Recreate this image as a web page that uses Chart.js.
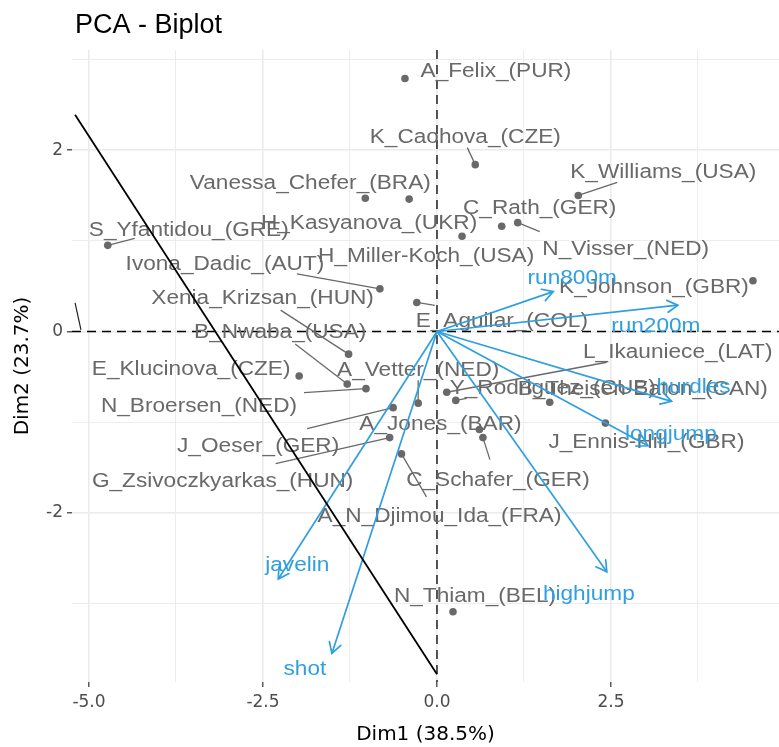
<!DOCTYPE html>
<html>
<head>
<meta charset="utf-8">
<title>PCA - Biplot</title>
<script src="https://cdn.jsdelivr.net/npm/chart.js@4.4.1/dist/chart.umd.min.js"></script>
<style>
  html, body { margin: 0; padding: 0; background: #ffffff; }
  #wrap { position: relative; width: 779px; height: 747px; }
</style>
</head>
<body>
<div id="wrap"><canvas id="biplot"></canvas></div>
<script>
// ---- Individuals (athletes) : coordinates on Dim1 / Dim2 ----
const athletes = [
  'A_Felix_(PUR)', 'K_Caohova_(CZE)', 'K_Williams_(USA)', 'Vanessa_Chefer_(BRA)',
  'H_Kasyanova_(UKR)', 'C_Rath_(GER)', 'N_Visser_(NED)', 'H_Miller-Koch_(USA)',
  'S_Yfantidou_(GRE)', 'Ivona_Dadic_(AUT)', 'E_Aguilar_(COL)', 'K_Johnson_(GBR)',
  'Xenia_Krizsan_(HUN)', 'B_Nwaba_(USA)', 'N_Broersen_(NED)', 'E_Klucinova_(CZE)',
  'A_Vetter_(NED)', 'L_Ikauniece_(LAT)', 'Y_Rodriguez_(CUB)', 'B_Theisen-Eaton_(CAN)',
  'J_Ennis-Hill_(GBR)', 'J_Oeser_(GER)', 'G_Zsivoczkyarkas_(HUN)', 'A_Jones_(BAR)',
  'C_Schafer_(GER)', 'A_N_Djimou_Ida_(FRA)', 'N_Thiam_(BEL)'
];
const dim1 = [
  -0.46, 0.55, 2.03, -1.03,
  0.36, 0.93, 1.16, -0.40,
  -4.73, -0.82, -0.29, 4.54,
  -1.27, -1.29, -1.02, -1.98,
  -0.27, 0.14, 0.27, 1.62,
  2.42, -0.63, -0.68, 0.61,
  0.66, -0.51, 0.23
];
const dim2 = [
  2.79, 1.84, 1.50, 1.47,
  1.05, 1.16, 1.20, 1.46,
  0.95, 0.47, 0.32, 0.56,
  -0.25, -0.58, -0.63, -0.49,
  -0.79, -0.67, -0.76, -0.78,
  -1.01, -0.84, -1.17, -1.08,
  -1.17, -1.35, -3.09
];

// ---- Variables (events) : loadings drawn as arrows from the origin ----
const variables = ['run800m', 'run200m', 'hurdles', 'longjump', 'highjump', 'javelin', 'shot'];
const varDim1 = [1.67, 3.46, 3.37, 3.03, 2.44, -2.28, -1.51];
const varDim2 = [0.44, 0.29, -0.77, -1.26, -2.65, -2.73, -3.55];

// ---- Extra black line and its small stub ----
const lineDim1 = [-5.20, 0.00];
const lineDim2 = [2.39, -3.78];
const stubDim1 = [-5.20, -5.115];
const stubDim2 = [0.315, 0.017];

// ---- Axis ticks ----
const xTickLabels = ['-5.0', '-2.5', '0.0', '2.5'];
const yTickLabels = ['-2', '0', '2'];
const xRange = [-5.244, 4.914];
const yRange = [-3.865, 3.104];

// ---- Label layout (pixel offsets of each label centre from its point) ----
const athleteLabelNudge = [
  [91, -7], [-10, -27], [85, -23], [-55, -15],
  [-93, -13], [38, -18], [108, 27], [17, 58],
  [81, -15], [-155, -24], [85, 19], [-99, 7],
  [-86, -56], [-67, -51], [-167, 18], [-108, -6],
  [0, -33], [231, -40], [97, -12], [93, -13],
  [41, 20], [-135, 39], [-167, 44], [-39, -5],
  [15, 43], [38, 63], [22, -15]
];
// leader segment end (pixel offset from the point), null = no leader
const athleteLeader = [
  null, [-8, -17], [39, -13], null,
  null, null, [22, 9], null,
  [27, -7], [-83, -15], [18, 3], null,
  [-68, -44], [-52, -40], [-62, 4], null,
  [0, -23], [160, -30], [11, -2], null,
  null, [-86, 21], [-114, 26], null,
  [7, 22], [25, 43], null
];
const variableLabelNudge = [[19, -13], [-22, 21], [22, -14], [23, -11], [-18, 23], [19, -13], [-27, 16]];

const IND_COLOR = '#696969';
const VAR_COLOR = '#2E9FDF';
const LABEL_FONT = "19.5px 'Liberation Sans', Arial, sans-serif";
const LABEL_STRETCH = 1.16;

function drawStretchedText(ctx, text, cx, cy, color) {
  ctx.save();
  ctx.translate(cx, cy);
  ctx.scale(LABEL_STRETCH, 1);
  ctx.font = LABEL_FONT;
  ctx.fillStyle = color;
  ctx.textAlign = 'center';
  ctx.textBaseline = 'middle';
  ctx.fillText(text, 0, 0);
  ctx.restore();
}

const datasets = [];
// black line (drawn last, on top)
datasets.push({
  data: lineDim1.map((v, i) => ({x: v, y: lineDim2[i]})),
  showLine: true, borderColor: '#000000', borderWidth: 1.8, pointRadius: 0, fill: false
});
datasets.push({
  data: stubDim1.map((v, i) => ({x: v, y: stubDim2[i]})),
  showLine: true, borderColor: '#222222', borderWidth: 1.2, pointRadius: 0, fill: false
});
// variable arrows
variables.forEach((name, i) => {
  datasets.push({
    label: name,
    data: [{x: 0, y: 0}, {x: varDim1[i], y: varDim2[i]}],
    showLine: true, borderColor: VAR_COLOR, borderWidth: 1.7, pointRadius: 0, fill: false
  });
});
// individuals (drawn first)
const IND_INDEX = datasets.length;
datasets.push({
  label: 'individuals',
  data: dim1.map((v, i) => ({x: v, y: dim2[i]})),
  showLine: false, pointRadius: 3.8, pointBackgroundColor: IND_COLOR, pointBorderWidth: 0
});

const biplotPlugin = {
  id: 'biplotExtras',
  beforeDatasetsDraw(chart) {
    const {ctx, chartArea: a, scales: {x, y}} = chart;
    const x0 = x.getPixelForValue(0), y0 = y.getPixelForValue(0);
    ctx.save();
    ctx.strokeStyle = '#000000';
    ctx.lineWidth = 1.3;
    ctx.setLineDash([9, 6]);
    ctx.beginPath();
    ctx.moveTo(a.left, y0); ctx.lineTo(a.right, y0);
    ctx.moveTo(x0, a.top); ctx.lineTo(x0, a.bottom);
    ctx.stroke();
    ctx.restore();
  },
  afterDatasetDraw(chart, args) {
    if (args.index !== IND_INDEX) return;
    const {ctx, scales: {x, y}} = chart;
    ctx.save();
    ctx.strokeStyle = IND_COLOR;
    ctx.lineWidth = 1.3;
    athletes.forEach((name, i) => {
      const px = x.getPixelForValue(dim1[i]), py = y.getPixelForValue(dim2[i]);
      const lead = athleteLeader[i];
      if (lead) {
        ctx.beginPath();
        ctx.moveTo(px, py);
        ctx.lineTo(px + lead[0], py + lead[1]);
        ctx.stroke();
      }
    });
    athletes.forEach((name, i) => {
      const px = x.getPixelForValue(dim1[i]), py = y.getPixelForValue(dim2[i]);
      const n = athleteLabelNudge[i];
      drawStretchedText(ctx, name, px + n[0], py + n[1], IND_COLOR);
    });
    ctx.restore();
  },
  afterDatasetsDraw(chart) {
    const {ctx, scales: {x, y}} = chart;
    const ox = x.getPixelForValue(0), oy = y.getPixelForValue(0);
    ctx.save();
    ctx.strokeStyle = VAR_COLOR;
    ctx.lineWidth = 1.7;
    ctx.lineCap = 'round';
    const head = 12, ang = Math.PI / 6;
    variables.forEach((name, i) => {
      const ex = x.getPixelForValue(varDim1[i]), ey = y.getPixelForValue(varDim2[i]);
      const t = Math.atan2(ey - oy, ex - ox);
      ctx.beginPath();
      ctx.moveTo(ex - head * Math.cos(t - ang), ey - head * Math.sin(t - ang));
      ctx.lineTo(ex, ey);
      ctx.lineTo(ex - head * Math.cos(t + ang), ey - head * Math.sin(t + ang));
      ctx.stroke();
    });
    variables.forEach((name, i) => {
      const ex = x.getPixelForValue(varDim1[i]), ey = y.getPixelForValue(varDim2[i]);
      const n = variableLabelNudge[i];
      drawStretchedText(ctx, name, ex + n[0], ey + n[1], VAR_COLOR);
    });
    ctx.restore();
  },
  afterDraw(chart) {
    const ctx = chart.ctx;
    ctx.save();
    ctx.font = "27px 'Liberation Sans', Arial, sans-serif";
    ctx.fillStyle = '#000000';
    ctx.textAlign = 'left';
    ctx.textBaseline = 'alphabetic';
    ctx.fillText('PCA - Biplot', 75, 33);
    ctx.restore();
  }
};

const isMajorX = v => xTickLabels.includes((+v).toFixed(1));
const isMajorY = v => yTickLabels.includes(String(Math.round(v)));

new Chart(document.getElementById('biplot'), {
  type: 'scatter',
  data: {datasets},
  plugins: [biplotPlugin],
  options: {
    responsive: true,
    maintainAspectRatio: false,
    animation: false,
    devicePixelRatio: 1,
    layout: {autoPadding: false, padding: {top: 50, left: 0, right: 0, bottom: 0}},
    plugins: {legend: {display: false}, tooltip: {enabled: false}, title: {display: false}},
    events: [],
    scales: {
      x: {
        type: 'linear',
        min: xRange[0], max: xRange[1],
        afterFit(s) { s.height = 65; s.paddingLeft = 0; s.paddingRight = 0; },
        border: {display: false},
        grid: {
          color: '#EBEBEB',
          lineWidth: c => (c.tick && isMajorX(c.tick.value)) ? 1.6 : 0.9,
          drawTicks: true,
          tickLength: 5,
          tickWidth: 1.2,
          tickColor: c => (c.tick && isMajorX(c.tick.value)) ? '#333333' : 'rgba(0,0,0,0)'
        },
        ticks: {
          stepSize: 1.25,
          includeBounds: false,
          autoSkip: false,
          maxRotation: 0,
          padding: 5,
          color: '#4D4D4D',
          font: {family: "'DejaVu Sans', sans-serif", size: 17},
          callback: v => isMajorX(v) ? (+v).toFixed(1) : ''
        },
        title: {
          display: true, text: 'Dim1 (38.5%)', color: '#000000',
          font: {family: "'DejaVu Sans', sans-serif", size: 20},
          padding: {top: 0, bottom: 0}
        }
      },
      y: {
        type: 'linear',
        min: yRange[0], max: yRange[1],
        afterFit(s) { s.width = 72; s.paddingTop = 0; s.paddingBottom = 0; },
        border: {display: false},
        grid: {
          color: '#EBEBEB',
          lineWidth: c => (c.tick && isMajorY(c.tick.value)) ? 1.6 : 0.9,
          drawTicks: true,
          tickLength: 5,
          tickWidth: 1.2,
          tickColor: c => (c.tick && isMajorY(c.tick.value)) ? '#333333' : 'rgba(0,0,0,0)'
        },
        ticks: {
          stepSize: 1,
          includeBounds: false,
          autoSkip: false,
          padding: 4,
          color: '#4D4D4D',
          font: {family: "'DejaVu Sans', sans-serif", size: 17},
          callback: v => isMajorY(v) ? String(Math.round(v)) : ''
        },
        title: {
          display: true, text: 'Dim2 (23.7%)', color: '#000000',
          font: {family: "'DejaVu Sans', sans-serif", size: 20},
          padding: {top: 11, bottom: 0}
        }
      }
    }
  }
});
</script>
</body>
</html>
